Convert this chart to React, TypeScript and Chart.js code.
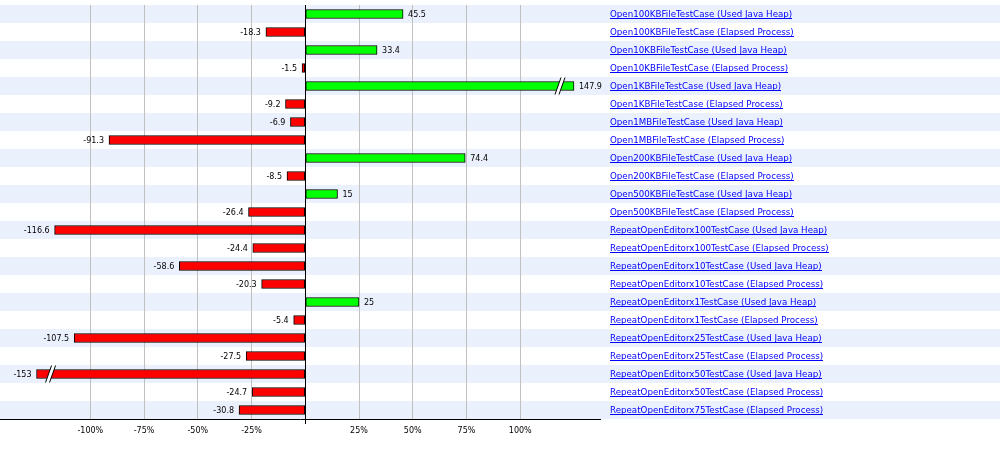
import React, { useEffect, useRef } from "react";
import { Chart, registerables } from "chart.js";

Chart.register(...registerables);

const CATEGORIES: string[] = [
  "Open100KBFileTestCase (Used Java Heap)",
  "Open100KBFileTestCase (Elapsed Process)",
  "Open10KBFileTestCase (Used Java Heap)",
  "Open10KBFileTestCase (Elapsed Process)",
  "Open1KBFileTestCase (Used Java Heap)",
  "Open1KBFileTestCase (Elapsed Process)",
  "Open1MBFileTestCase (Used Java Heap)",
  "Open1MBFileTestCase (Elapsed Process)",
  "Open200KBFileTestCase (Used Java Heap)",
  "Open200KBFileTestCase (Elapsed Process)",
  "Open500KBFileTestCase (Used Java Heap)",
  "Open500KBFileTestCase (Elapsed Process)",
  "RepeatOpenEditorx100TestCase (Used Java Heap)",
  "RepeatOpenEditorx100TestCase (Elapsed Process)",
  "RepeatOpenEditorx10TestCase (Used Java Heap)",
  "RepeatOpenEditorx10TestCase (Elapsed Process)",
  "RepeatOpenEditorx1TestCase (Used Java Heap)",
  "RepeatOpenEditorx1TestCase (Elapsed Process)",
  "RepeatOpenEditorx25TestCase (Used Java Heap)",
  "RepeatOpenEditorx25TestCase (Elapsed Process)",
  "RepeatOpenEditorx50TestCase (Used Java Heap)",
  "RepeatOpenEditorx50TestCase (Elapsed Process)",
  "RepeatOpenEditorx75TestCase (Elapsed Process)",
];

const VALUES: number[] = [
  45.5, -18.3, 33.4, -1.5, 147.9, -9.2, -6.9, -91.3, 74.4, -8.5, 15, -26.4,
  -116.6, -24.4, -58.6, -20.3, 25, -5.4, -107.5, -27.5, -153, -24.7, -30.8,
];

const TICK_VALUES: number[] = [-100, -75, -50, -25, 0, 25, 50, 75, 100];
const CLIP_LIMIT = 125;
const X_MIN = -142.0;
const X_MAX = 137.1;

const STRIPE = "#ebf1fc";
const POS_COLOR = "#00ff00";
const NEG_COLOR = "#ff0000";
const LINK_COLOR = "#0000ff";
const FONT_FAMILY = '"DejaVu Sans"';

const customPlugin = {
  id: "customDecor",
  beforeDraw(chart: any) {
    const { ctx } = chart;
    const y = chart.scales.y;
    const rowH = y.getPixelForValue(1) - y.getPixelForValue(0);
    ctx.save();
    ctx.fillStyle = STRIPE;
    CATEGORIES.forEach((_c, i) => {
      if (i % 2 === 0) {
        const yc = y.getPixelForValue(i);
        ctx.fillRect(0, Math.round(yc - rowH / 2), chart.width, Math.round(rowH));
      }
    });
    ctx.restore();
  },
  afterDatasetsDraw(chart: any) {
    const { ctx, chartArea } = chart;
    const x = chart.scales.x;
    const y = chart.scales.y;
    const zero = Math.round(x.getPixelForValue(0)) + 0.5;
    ctx.save();
    // zero line
    ctx.strokeStyle = "#000";
    ctx.lineWidth = 1;
    ctx.beginPath();
    ctx.moveTo(zero, chartArea.top);
    ctx.lineTo(zero, chartArea.bottom + 5);
    ctx.stroke();

    // break marks
    VALUES.forEach((v, i) => {
      if (Math.abs(v) > CLIP_LIMIT) {
        const dir = v > 0 ? 1 : -1;
        const end = x.getPixelForValue(dir * CLIP_LIMIT);
        const cx = end - dir * 14;
        const yc = y.getPixelForValue(i);
        const h = 8.5;
        const s = 3;
        ctx.fillStyle = "#fff";
        ctx.beginPath();
        ctx.moveTo(cx - 2 - s, yc + h);
        ctx.lineTo(cx - 2 + s, yc - h);
        ctx.lineTo(cx + 2 + s, yc - h);
        ctx.lineTo(cx + 2 - s, yc + h);
        ctx.closePath();
        ctx.fill();
        ctx.strokeStyle = "#000";
        ctx.beginPath();
        ctx.moveTo(cx - 2 - s, yc + h);
        ctx.lineTo(cx - 2 + s, yc - h);
        ctx.moveTo(cx + 2 - s, yc + h);
        ctx.lineTo(cx + 2 + s, yc - h);
        ctx.stroke();
      }
    });

    // value labels
    ctx.font = `8px ${FONT_FAMILY}`;
    ctx.fillStyle = "#000";
    ctx.textBaseline = "middle";
    VALUES.forEach((v, i) => {
      const clipped = Math.max(-CLIP_LIMIT, Math.min(CLIP_LIMIT, v));
      const px = x.getPixelForValue(clipped);
      const yc = y.getPixelForValue(i) + 0.5;
      if (v >= 0) {
        ctx.textAlign = "left";
        ctx.fillText(String(v), px + 5, yc);
      } else {
        ctx.textAlign = "right";
        ctx.fillText(String(v), px - 5, yc);
      }
    });

    // category labels (links)
    ctx.font = `8.7px ${FONT_FAMILY}`;
    ctx.textAlign = "left";
    ctx.fillStyle = LINK_COLOR;
    const lx = chartArea.right + 10;
    CATEGORIES.forEach((c, i) => {
      const yc = y.getPixelForValue(i);
      ctx.fillText(c, lx, yc + 0.5);
      const w = ctx.measureText(c).width;
      ctx.fillRect(lx, Math.round(yc) + 4, Math.round(w), 1);
    });
    ctx.restore();
  },
};

export default function App() {
  const canvasRef = useRef<HTMLCanvasElement | null>(null);

  useEffect(() => {
    document.body.style.margin = "0";
    const canvas = canvasRef.current;
    if (!canvas) return;
    const chart = new Chart(canvas, {
      type: "bar",
      data: {
        labels: CATEGORIES,
        datasets: [
          {
            data: VALUES.map((v) => Math.max(-CLIP_LIMIT, Math.min(CLIP_LIMIT, v))),
            backgroundColor: VALUES.map((v) => (v >= 0 ? POS_COLOR : NEG_COLOR)),
            borderColor: "#000",
            borderWidth: 1,
            borderSkipped: false,
            barThickness: 9,
          },
        ],
      },
      options: {
        indexAxis: "y",
        responsive: false,
        animation: false,
        devicePixelRatio: 1,
        layout: { padding: { top: 5, right: 400, left: 0, bottom: 0 } },
        plugins: {
          legend: { display: false },
          tooltip: { enabled: false },
        },
        scales: {
          x: {
            type: "linear",
            min: X_MIN,
            max: X_MAX,
            afterBuildTicks: (s: any) => {
              s.ticks = TICK_VALUES.map((v) => ({ value: v }));
            },
            afterFit: (s: any) => {
              s.height = 31;
            },
            grid: {
              color: (c: any) =>
                c.tick && c.tick.value === 0 ? "rgba(0,0,0,0)" : "#c0c0c0",
              drawTicks: false,
              lineWidth: 1,
            },
            border: { color: "#000", width: 1 },
            ticks: {
              callback: (v: any) => (v === 0 ? "" : `${v}%`),
              font: { family: "DejaVu Sans", size: 8 },
              color: "#000",
              padding: 7,
              maxRotation: 0,
              autoSkip: false,
            },
          },
          y: {
            type: "category",
            display: false,
          },
        },
      },
      plugins: [customPlugin],
    } as any);
    return () => chart.destroy();
  }, []);

  return (
    <canvas
      ref={canvasRef}
      width={1000}
      height={450}
      style={{ display: "block", width: 1000, height: 450 }}
    />
  );
}
